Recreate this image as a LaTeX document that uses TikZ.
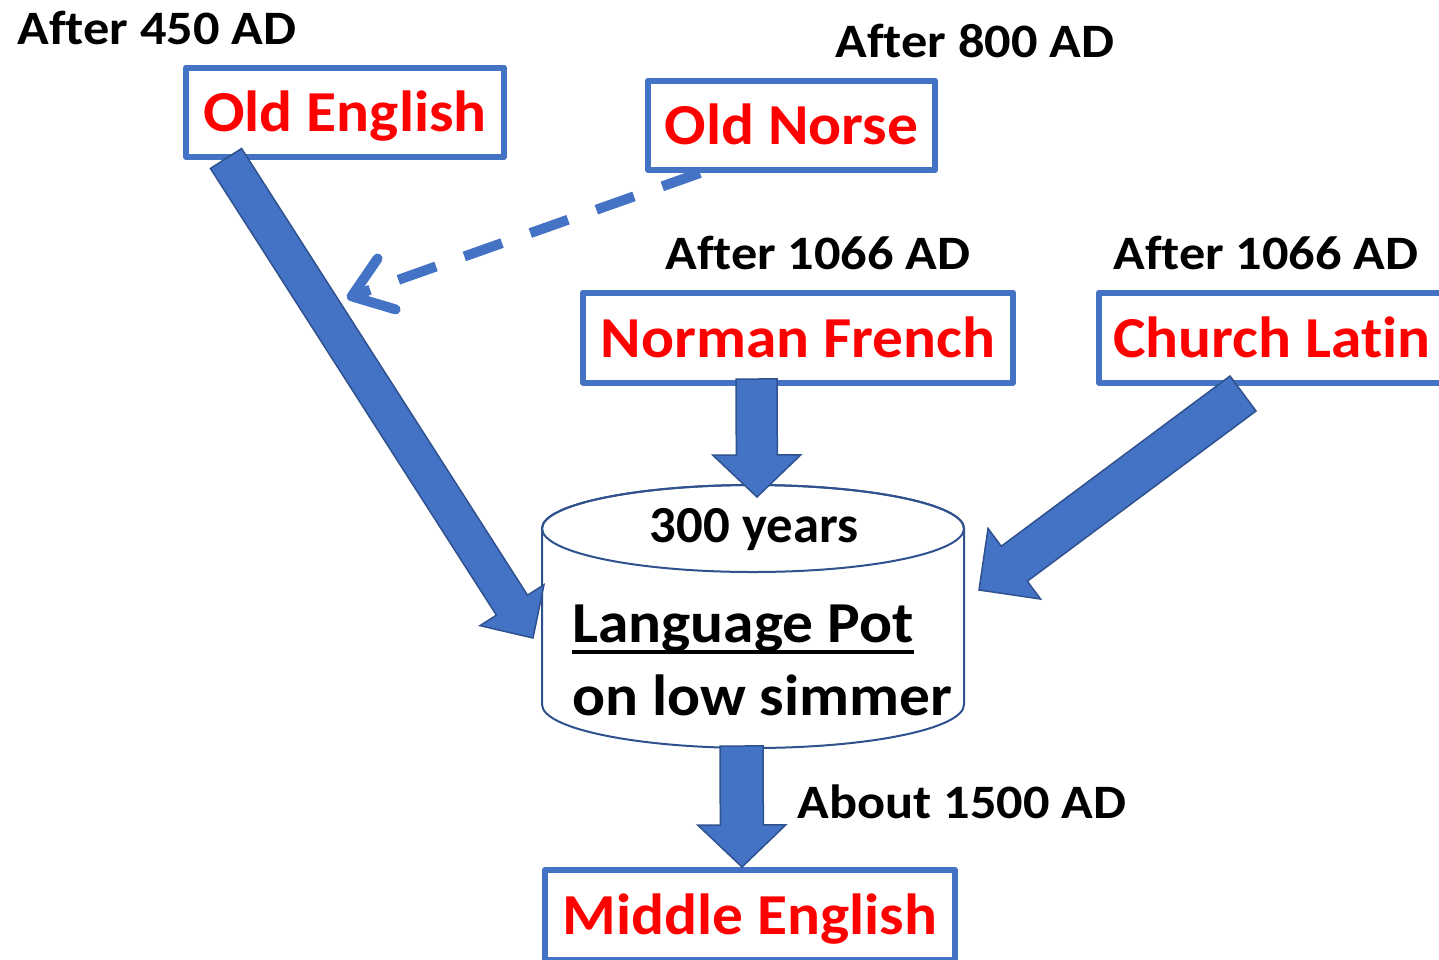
\documentclass[tikz,border=0pt]{standalone}
\usepackage{fontspec}
\setmainfont{Carlito}[Ligatures=NoCommon]
\newfontfamily\lblfont{Carlito}[FakeStretch=1.09,Ligatures=NoCommon]
\newfontfamily\redfont{Carlito}[FakeStretch=1.06,Ligatures=NoCommon]
\newfontfamily\yrsfont{Carlito}[FakeStretch=1.015,Ligatures=NoCommon]
\usetikzlibrary{arrows.meta,calc}
\definecolor{boxblue}{RGB}{68,114,196}
\definecolor{edgeblue}{RGB}{47,82,143}
\definecolor{langred}{RGB}{255,0,0}
% #1 tail, #2 tip, #3 half shaft width, #4 half head width, #5 head length
\newcommand\myblockarrow[5]{%
  \path ($(#2)!#5!(#1)$) coordinate (bh);
  \draw[blockarr] ($(#1)!#3!90:(#2)$) -- ($(bh)!#3!90:(#2)$) -- ($(bh)!#4!90:(#2)$)
    -- (#2) -- ($(bh)!#4!-90:(#2)$) -- ($(bh)!#3!-90:(#2)$) -- ($(#1)!#3!-90:(#2)$) -- cycle;}
\begin{document}
\begin{tikzpicture}[x=1pt,y=-1pt,
  langbox/.style={draw=boxblue, line width=6pt, fill=white, text=langred,
    font=\redfont\bfseries\fontsize{58}{60}\selectfont, inner sep=0pt,
    text height=46pt, text depth=7pt, line join=round},
  datelabel/.style={font=\lblfont\bfseries\fontsize{48}{50}\selectfont, inner sep=0pt, anchor=base},
  pottext/.style={font=\redfont\bfseries\fontsize{58}{60}\selectfont, inner sep=0pt, anchor=base west},
  potline/.style={draw=edgeblue, line width=2pt},
  blockarr/.style={fill=boxblue, draw=edgeblue, line width=1.5pt, line join=miter},
  dasharr/.style={draw=boxblue, line width=10pt, dash pattern=on 40pt off 30pt,
    -{Straight Barb[length=37pt, width=54pt, round]}}]
\useasboundingbox (0,0) rectangle (1439,959);

% date labels
\node[datelabel] (d450) at (157,44) {After 450 AD};
\node[datelabel] (d800) at (975,57) {After 800 AD};
\node[datelabel] (d1066a) at (818,269) {After 1066 AD};
\node[datelabel] (d1066b) at (1266,269) {After 1066 AD};
\node[datelabel] (d1500) at (962,818) {About 1500 AD};

% language boxes
\node[langbox, minimum width=318pt, minimum height=89.5pt] (oe) at (345,112.25) {Old English};
\node[langbox, minimum width=287pt, minimum height=89.5pt] (on) at (791.5,125.25) {Old Norse};
\node[langbox, minimum width=430pt, minimum height=90pt] (nf) at (798,337.5) {Norman French};
\node[langbox, minimum width=346pt, minimum height=90pt] (cl) at (1272,337.5) {Church Latin};
\node[langbox, minimum width=410pt, minimum height=90pt] (me) at (750,915) {Middle English};

% the pot
\draw[potline, fill=white] (542,528.5) -- (542,704.5)
  arc[start angle=180, end angle=0, x radius=211, y radius=43.5]
  -- (964,528.5)
  arc[start angle=360, end angle=180, x radius=211, y radius=43.5] -- cycle;
\draw[potline] (753,528.5) ellipse[x radius=211, y radius=43.5];
\coordinate (pot) at (753,616);
\node[font=\yrsfont\bfseries\fontsize{52}{54}\selectfont, inner sep=0pt, anchor=base] (yrs) at (754,542) {300 years};
\node[pottext] (lp) at (572,642) {Language Pot};
\draw[line width=4pt] ([yshift=-10pt]lp.base west) -- ([yshift=-10pt]lp.base east);
\node[pottext] (sim) at (572,715) {on low simmer};

% connector end points
\coordinate (oe-out) at (226,158.5);
\coordinate (pot-w) at (533,638);
\coordinate (nf-out) at (756.5,379);
\coordinate (pot-n) at (757,497);
\coordinate (cl-out) at (1243,393.5);
\coordinate (pot-e) at (979,590);
\coordinate (pot-s) at (741.5,746);
\coordinate (me-in) at (742,867);
\coordinate (on-out) at (700,173);
\coordinate (oe-mid) at (347,298);

% block arrows
\myblockarrow{oe-out}{pot-w}{18.5pt}{38pt}{39pt}
\myblockarrow{nf-out}{pot-n}{20.5pt}{44pt}{42pt}
\myblockarrow{cl-out}{pot-e}{21.8pt}{44pt}{44pt}
\myblockarrow{pot-s}{me-in}{21.5pt}{44pt}{42pt}

% dashed arrow
\draw[dasharr] (on-out) -- (oe-mid);
\end{tikzpicture}
\end{document}
